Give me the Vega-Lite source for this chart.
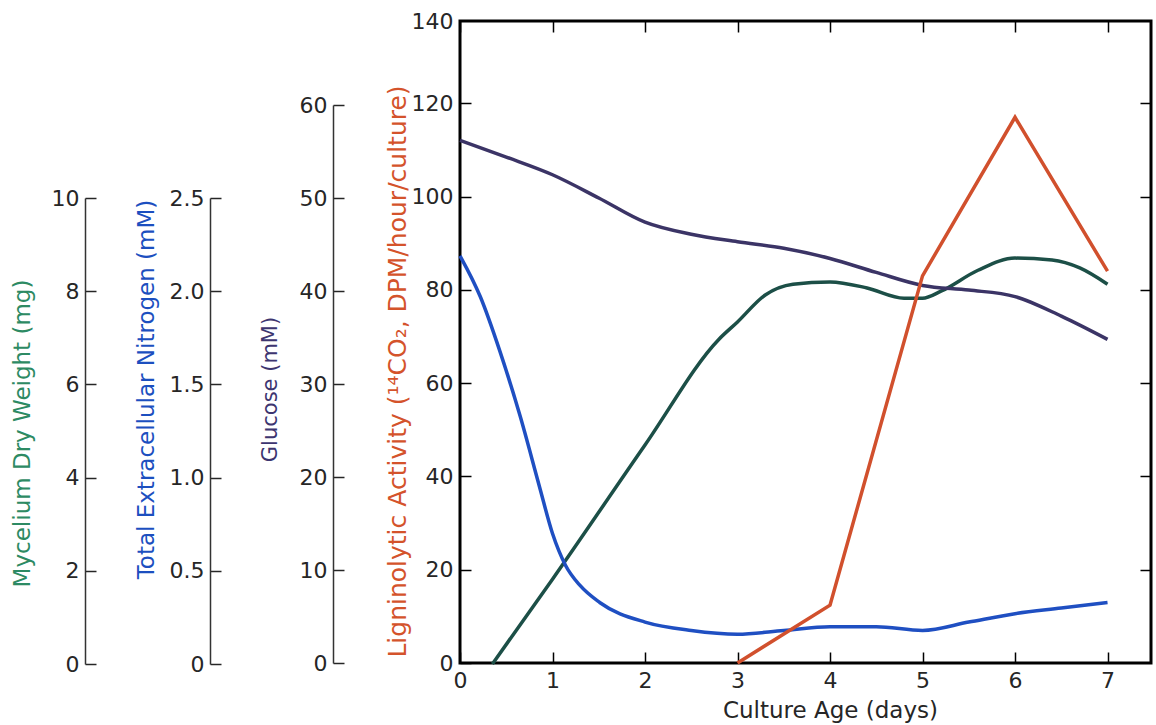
{
  "$schema": "https://vega.github.io/schema/vega-lite/v6.json",
  "width": 691,
  "height": 642,
  "autosize": {"type": "none"},
  "padding": {"left": 460, "top": 21, "right": 5, "bottom": 62},
  "config": {
    "font": "DejaVu Sans",
    "view": {"stroke": "#000000", "strokeWidth": 3},
    "axis": {
      "grid": false,
      "labelFontSize": 22,
      "labelColor": "#262626",
      "labelPadding": 17,
      "labelFlush": false,
      "labelOverlap": false,
      "tickColor": "#262626",
      "tickSize": -11,
      "tickWidth": 1.5,
      "domainColor": "#333333",
      "domainWidth": 1.5,
      "titleFontSize": 23,
      "titleFontWeight": "normal",
      "titleBaseline": "middle"
    }
  },
  "datasets": {
    "lignin": [
      {"day": 3, "value": 0},
      {"day": 4, "value": 12.4},
      {"day": 5, "value": 83},
      {"day": 6, "value": 117},
      {"day": 7, "value": 84}
    ],
    "glucose": [
      {"day": 0, "value": 56.2},
      {"day": 0.5, "value": 54.4},
      {"day": 1, "value": 52.5},
      {"day": 1.5, "value": 50.0},
      {"day": 2, "value": 47.4},
      {"day": 2.5, "value": 46.1},
      {"day": 3, "value": 45.3},
      {"day": 3.5, "value": 44.6},
      {"day": 4, "value": 43.5},
      {"day": 4.5, "value": 42.0},
      {"day": 5, "value": 40.6},
      {"day": 5.5, "value": 40.1},
      {"day": 6, "value": 39.4},
      {"day": 6.5, "value": 37.3},
      {"day": 7, "value": 34.8}
    ],
    "nitrogen": [
      {"day": 0, "value": 2.19},
      {"day": 0.22, "value": 1.97},
      {"day": 0.43, "value": 1.68},
      {"day": 0.65, "value": 1.33},
      {"day": 0.86, "value": 0.95},
      {"day": 1.0, "value": 0.7},
      {"day": 1.14, "value": 0.53},
      {"day": 1.3, "value": 0.42},
      {"day": 1.51, "value": 0.33},
      {"day": 2.0, "value": 0.225},
      {"day": 2.5, "value": 0.18},
      {"day": 3.0, "value": 0.16},
      {"day": 3.5, "value": 0.18},
      {"day": 4.0, "value": 0.2},
      {"day": 4.5, "value": 0.2},
      {"day": 5.0, "value": 0.18},
      {"day": 5.5, "value": 0.225},
      {"day": 6.0, "value": 0.27},
      {"day": 6.5, "value": 0.3},
      {"day": 7.0, "value": 0.33}
    ],
    "mycelium": [
      {"day": 0.35, "value": 0},
      {"day": 1.0, "value": 1.82},
      {"day": 2.0, "value": 4.7},
      {"day": 2.8, "value": 6.97},
      {"day": 3.0, "value": 7.34},
      {"day": 3.3, "value": 7.92},
      {"day": 3.6, "value": 8.15},
      {"day": 4.0, "value": 8.2},
      {"day": 4.4, "value": 8.07},
      {"day": 4.8, "value": 7.85},
      {"day": 5.0, "value": 7.85},
      {"day": 5.2, "value": 8.0},
      {"day": 5.6, "value": 8.45},
      {"day": 6.0, "value": 8.71},
      {"day": 6.4, "value": 8.67},
      {"day": 6.7, "value": 8.5},
      {"day": 7.0, "value": 8.15}
    ]
  },
  "layer": [
    {
      "data": {"name": "mycelium"},
      "mark": {"type": "line", "color": "#1c4f47", "strokeWidth": 3.5, "interpolate": "monotone"},
      "encoding": {
        "x": {"field": "day", "type": "quantitative", "scale": {"domain": [0, 7.47], "nice": false, "zero": false}, "axis": null},
        "y": {
          "field": "value", "type": "quantitative",
          "scale": {"domain": [0, 10], "range": [643, 177], "nice": false},
          "axis": {
            "orient": "left", "offset": 375, "values": [0, 2, 4, 6, 8, 10],
            "title": "Mycelium Dry Weight (mg)", "titleColor": "#2d8a63",
            "titleX": -63, "titleY": 412
          }
        }
      }
    },
    {
      "data": {"name": "nitrogen"},
      "mark": {"type": "line", "color": "#1f4fc2", "strokeWidth": 3.5, "interpolate": "monotone"},
      "encoding": {
        "x": {"field": "day", "type": "quantitative", "scale": {"domain": [0, 7.47], "nice": false, "zero": false}, "axis": null},
        "y": {
          "field": "value", "type": "quantitative",
          "scale": {"domain": [0, 2.5], "range": [643, 177], "nice": false},
          "axis": {
            "orient": "left", "offset": 250, "values": [0, 0.5, 1, 1.5, 2, 2.5],
            "labelExpr": "datum.value == 0 ? '0' : format(datum.value, '.1f')",
            "title": "Total Extracellular Nitrogen (mM)", "titleColor": "#1c4fbf",
            "titleX": -64, "titleY": 368
          }
        }
      }
    },
    {
      "data": {"name": "glucose"},
      "mark": {"type": "line", "color": "#3b3466", "strokeWidth": 3.5, "interpolate": "monotone"},
      "encoding": {
        "x": {
          "field": "day", "type": "quantitative", "scale": {"domain": [0, 7.47], "nice": false, "zero": false},
          "axis": {"orient": "top", "values": [0, 1, 2, 3, 4, 5, 6, 7], "labels": false, "domain": false, "title": null, "tickColor": "#000000"}
        },
        "y": {
          "field": "value", "type": "quantitative",
          "scale": {"domain": [0, 60], "range": [642, 84], "nice": false},
          "axis": {
            "orient": "left", "offset": 127, "values": [0, 10, 20, 30, 40, 50, 60],
            "title": "Glucose (mM)", "titleColor": "#3d3570", "titleFontSize": 21,
            "titleX": -63, "titleY": 368
          }
        }
      }
    },
    {
      "data": {"name": "lignin"},
      "mark": {"type": "line", "color": "#d1502d", "strokeWidth": 3.5},
      "encoding": {
        "x": {
          "field": "day", "type": "quantitative", "scale": {"domain": [0, 7.47], "nice": false, "zero": false},
          "axis": {
            "orient": "bottom", "values": [0, 1, 2, 3, 4, 5, 6, 7], "domain": false, "tickColor": "#000000",
            "labelPadding": 18,
            "title": "Culture Age (days)", "titleColor": "#262626",
            "titleX": 370, "titleY": 54, "titleBaseline": "alphabetic"
          }
        },
        "y": {
          "field": "value", "type": "quantitative",
          "scale": {"domain": [0, 140], "range": [642, -11], "nice": false},
          "axis": {
            "orient": "left", "values": [0, 20, 40, 60, 80, 100, 120, 140], "domain": false, "tickColor": "#000000",
            "labelPadding": 18,
            "labelOffset": {"condition": {"test": "datum.value == 140", "value": 11}, "value": 0},
            "tickOpacity": {"condition": {"test": "datum.value == 140", "value": 0}, "value": 1},
            "title": "Ligninolytic Activity (¹⁴CO₂, DPM/hour/culture)", "titleColor": "#d4532b", "titleFontSize": 25,
            "titleX": -63, "titleY": 350
          }
        }
      }
    },
    {
      "data": {"name": "lignin"},
      "mark": {"type": "line", "strokeOpacity": 0},
      "encoding": {
        "x": {"field": "day", "type": "quantitative", "scale": {"domain": [0, 7.47], "nice": false, "zero": false}, "axis": null},
        "y": {
          "field": "value", "type": "quantitative",
          "scale": {"domain": [0, 140], "range": [642, -11], "nice": false},
          "axis": {"orient": "right", "values": [20, 40, 60, 80, 100, 120], "labels": false, "domain": false, "title": null, "tickColor": "#000000"}
        }
      }
    }
  ],
  "resolve": {"scale": {"y": "independent"}, "axis": {"x": "independent", "y": "independent"}}
}
